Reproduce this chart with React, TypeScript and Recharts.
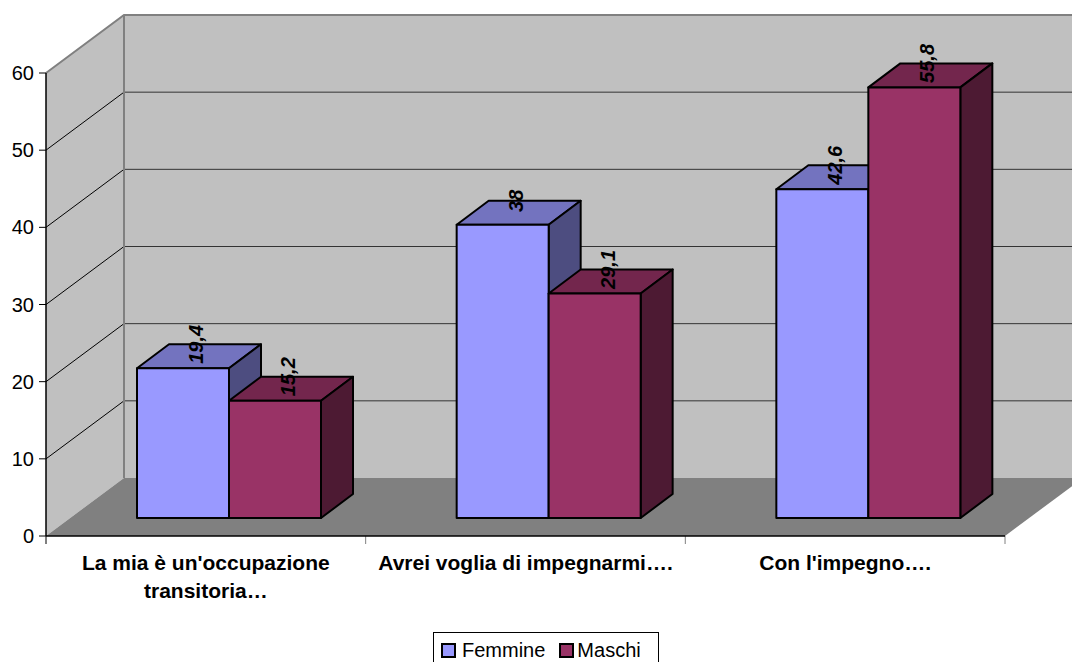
import { Bar, BarChart, LabelList, Legend, ReferenceArea, XAxis, YAxis } from "recharts";

const CATEGORIES = [
  "La mia è un'occupazione transitoria…",
  "Avrei voglia di impegnarmi….",
  "Con l'impegno….",
];
const FEMMINE = [19.4, 38, 42.6];
const MASCHI = [15.2, 29.1, 55.8];
const Y_TICKS = [0, 10, 20, 30, 40, 50, 60];
const Y_MAX = 60;

const data = CATEGORIES.map((name, i) => ({
  name,
  femmine: FEMMINE[i],
  maschi: MASCHI[i],
}));

const FONT = "'Liberation Sans', Arial, sans-serif";

// 3D projection: walls recede by WALL_D, bars sit BAR_SHIFT into the box and are BOX_D deep
const WALL_DX = 78;
const WALL_DY = 58;
const BAR_SHIFT_X = 23;
const BAR_SHIFT_Y = 18;
const BOX_DX = 32;
const BOX_DY = 24;

const WALL = "#C0C0C0";
const FLOOR = "#808080";
const EDGE = "#808080";

const FEMMINE_FACES = { front: "#9999FF", top: "#7373BF", side: "#4D4D80" };
const MASCHI_FACES = { front: "#993366", top: "#73264D", side: "#4D1A33" };

type Faces = typeof FEMMINE_FACES;

const pts = (list: number[][]) => list.map((p) => p.join(",")).join(" ");

function makeBox(faces: Faces) {
  return (props: any) => {
    const x = Number(props.x) + BAR_SHIFT_X;
    const y = Number(props.y) - BAR_SHIFT_Y;
    const w = Number(props.width);
    const h = Number(props.height);
    const stroke = { stroke: "#000", strokeWidth: 2, strokeLinejoin: "round" as const };
    return (
      <g>
        <polygon
          points={pts([[x, y], [x + BOX_DX, y - BOX_DY], [x + w + BOX_DX, y - BOX_DY], [x + w, y]])}
          fill={faces.top}
          {...stroke}
        />
        <polygon
          points={pts([[x + w, y], [x + w + BOX_DX, y - BOX_DY], [x + w + BOX_DX, y + h - BOX_DY], [x + w, y + h]])}
          fill={faces.side}
          {...stroke}
        />
        <rect x={x} y={y} width={w} height={h} fill={faces.front} {...stroke} />
      </g>
    );
  };
}

// back wall, side wall, floor and their gridlines, from the plot rectangle 0..Y_MAX
function Walls(props: any) {
  const x = Number(props.x);
  const y = Number(props.y);
  const w = Number(props.width);
  const h = Number(props.height);
  const bottom = y + h;
  const right = x + w;
  const levelY = (t: number) => bottom - (t / Y_MAX) * h;
  const band = w / CATEGORIES.length;

  return (
    <g>
      <polygon
        points={pts([[x + WALL_DX, y - WALL_DY], [right + WALL_DX, y - WALL_DY], [right + WALL_DX, bottom - WALL_DY], [x + WALL_DX, bottom - WALL_DY]])}
        fill={WALL}
      />
      <polygon
        points={pts([[x, y], [x + WALL_DX, y - WALL_DY], [x + WALL_DX, bottom - WALL_DY], [x, bottom]])}
        fill={WALL}
      />
      <polygon
        points={pts([[x, bottom], [right, bottom], [right + WALL_DX, bottom - WALL_DY], [x + WALL_DX, bottom - WALL_DY]])}
        fill={FLOOR}
      />
      {Y_TICKS.filter((t) => t > 0 && t < Y_MAX).map((t) => {
        const gy = levelY(t);
        return (
          <g key={t}>
            <line x1={x} y1={gy} x2={x + WALL_DX} y2={gy - WALL_DY} stroke="#000" strokeWidth={1} />
            <line x1={x + WALL_DX} y1={gy - WALL_DY} x2={right + WALL_DX} y2={gy - WALL_DY} stroke="#333" strokeWidth={1} />
          </g>
        );
      })}
      <polyline
        points={pts([[x, y], [x + WALL_DX, y - WALL_DY], [right + WALL_DX, y - WALL_DY]])}
        fill="none"
        stroke={EDGE}
        strokeWidth={2}
      />
      <line x1={x + WALL_DX} y1={y - WALL_DY} x2={x + WALL_DX} y2={bottom - WALL_DY} stroke={EDGE} strokeWidth={2} />
      {CATEGORIES.map((_, i) => i)
        .concat(CATEGORIES.length)
        .map((i) => (
          <line
            key={`b${i}`}
            x1={x + i * band}
            y1={bottom}
            x2={x + i * band}
            y2={bottom + 8}
            stroke={i === 0 ? "#000" : EDGE}
            strokeWidth={1}
          />
        ))}
    </g>
  );
}

const TICK_FONT = `bold 21px ${FONT}`;
const TICK_WRAP = 310;

// greedy word wrap measured with a canvas context
function wrapWords(text: string, maxWidth: number): string[] {
  const ctx = document.createElement("canvas").getContext("2d");
  if (!ctx) return [text];
  ctx.font = TICK_FONT;
  const lines: string[] = [];
  let line = "";
  for (const word of text.split(" ")) {
    const test = line ? `${line} ${word}` : word;
    if (line && ctx.measureText(test).width > maxWidth) {
      lines.push(line);
      line = word;
    } else {
      line = test;
    }
  }
  lines.push(line);
  return lines;
}

function CategoryTick(props: any) {
  const { x, y, payload } = props;
  const lines = wrapWords(String(payload.value), TICK_WRAP);
  return (
    <text
      x={x}
      y={Number(y) + 26}
      textAnchor="middle"
      fill="#000"
      fontFamily={FONT}
      fontSize={21}
      fontWeight="bold"
    >
      {lines.map((l, i) => (
        <tspan key={i} x={x} dy={i ? 28 : 0}>
          {l}
        </tspan>
      ))}
    </text>
  );
}

function ValueLabel(props: any) {
  const vb = props.viewBox && props.viewBox.width != null ? props.viewBox : props;
  const bx = Number(vb.x) + Number(vb.width) / 2 + BAR_SHIFT_X + 20;
  const by = Number(vb.y) - BAR_SHIFT_Y - BOX_DY;
  return (
    <text
      x={bx}
      y={by}
      transform={`rotate(-90 ${bx} ${by})`}
      textAnchor="middle"
      fill="#000"
      fontFamily={FONT}
      fontSize={20}
      fontWeight="bold"
      fontStyle="italic"
    >
      {String(props.value).replace(".", ",")}
    </text>
  );
}

function LegendBox(props: any) {
  const items = props.payload || [];
  return (
    <div
      style={{
        display: "flex",
        alignItems: "center",
        boxSizing: "border-box",
        width: 226,
        height: 36,
        padding: "0 7px",
        border: "1px solid #000",
        background: "#fff",
        fontFamily: FONT,
        fontSize: 20,
        color: "#000",
      }}
    >
      {items.map((it: any, i: number) => (
        <span key={it.value} style={{ display: "flex", alignItems: "center", marginLeft: i ? 14 : 0 }}>
          <span
            style={{
              display: "inline-block",
              boxSizing: "border-box",
              width: 15,
              height: 15,
              background: it.color,
              border: "2px solid #000",
              marginRight: i ? 3 : 6,
            }}
          />
          {it.value}
        </span>
      ))}
    </div>
  );
}

export default function App() {
  return (
    <div
      style={{
        position: "absolute",
        left: 0,
        top: 0,
        width: 1072,
        height: 662,
        overflow: "hidden",
        background: "#fff",
        fontFamily: FONT,
      }}
    >
      <BarChart
        width={1072}
        height={662}
        data={data}
        margin={{ top: 73, right: 67, bottom: 66, left: 6 }}
        barSize={92}
        barGap={0}
      >
        <ReferenceArea y1={0} y2={Y_MAX} shape={(p: any) => <Walls {...p} />} zIndex={-50} />
        <XAxis
          dataKey="name"
          height={60}
          interval={0}
          tickLine={false}
          axisLine={{ stroke: "#000", strokeWidth: 1.5 }}
          tick={<CategoryTick />}
        />
        <YAxis
          width={40}
          domain={[0, Y_MAX]}
          ticks={Y_TICKS}
          interval={0}
          tickSize={7}
          tickMargin={5}
          axisLine={{ stroke: "#000", strokeWidth: 1.5 }}
          tickLine={{ stroke: "#000" }}
          tick={{ fontSize: 20, fill: "#000", fontFamily: FONT }}
        />
        <Legend
          layout="horizontal"
          verticalAlign="middle"
          align="center"
          wrapperStyle={{ left: 433, top: 632, width: 226 }}
          content={<LegendBox />}
        />
        <Bar
          dataKey="femmine"
          name="Femmine"
          fill={FEMMINE_FACES.front}
          shape={makeBox(FEMMINE_FACES)}
          isAnimationActive={false}
        >
          <LabelList dataKey="femmine" content={<ValueLabel />} />
        </Bar>
        <Bar
          dataKey="maschi"
          name="Maschi"
          fill={MASCHI_FACES.front}
          shape={makeBox(MASCHI_FACES)}
          isAnimationActive={false}
        >
          <LabelList dataKey="maschi" content={<ValueLabel />} />
        </Bar>
      </BarChart>
    </div>
  );
}
